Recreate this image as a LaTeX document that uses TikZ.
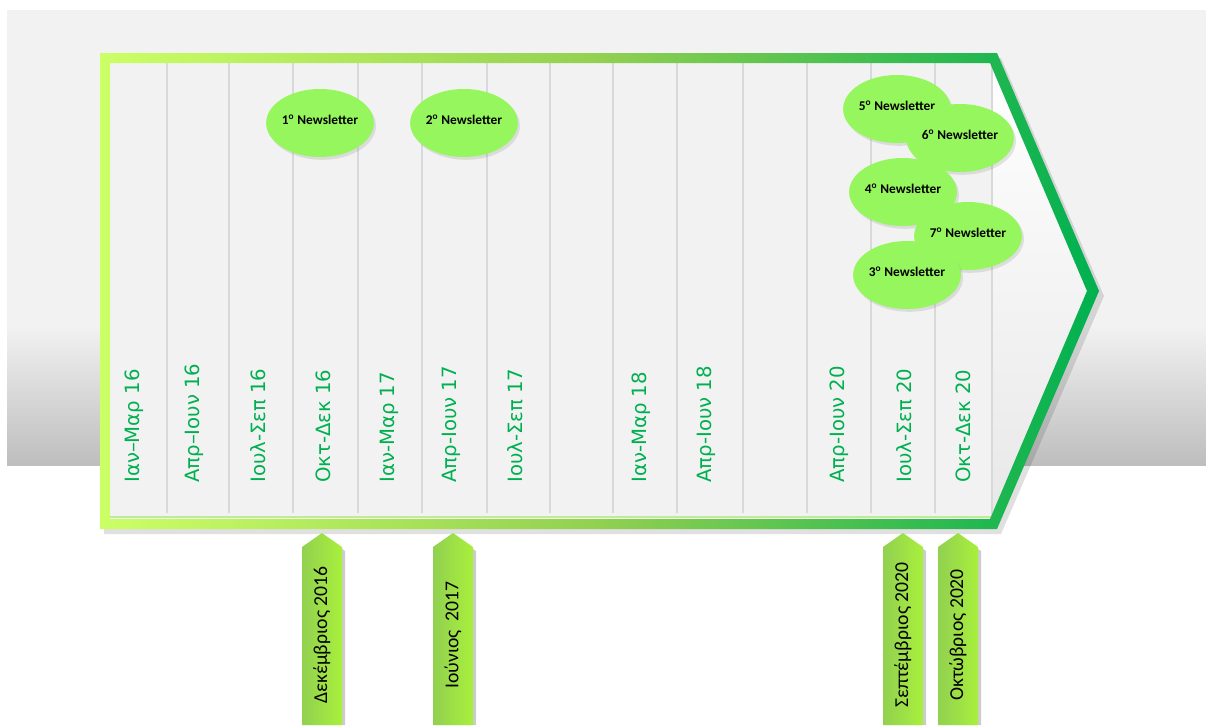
\documentclass[tikz,border=0pt]{standalone}
\usepackage{fontspec}
\setmainfont{Carlito}
\newfontfamily\gothicfont{DejaVu Sans}
\usepackage{xcolor}
\usepackage{tikz}
\usetikzlibrary{shapes.geometric,shadows}

\definecolor{lime}{RGB}{204,255,102}
\definecolor{leaf}{RGB}{146,208,80}
\definecolor{office}{RGB}{0,176,80}
\definecolor{bubble}{RGB}{150,246,94}
\definecolor{paper}{RGB}{242,242,242}
\definecolor{tipgray}{RGB}{232,232,232}
\definecolor{shadegray}{RGB}{190,190,190}
\definecolor{rule}{RGB}{217,217,217}
\definecolor{paleleaf}{RGB}{190,235,150}
\definecolor{spring}{RGB}{168,240,60}

\begin{document}
\begin{tikzpicture}[x=0.025cm,y=-0.025cm]
\tikzstyle{every node}=[font=\small]
\tikzstyle{newsbubble}=[ellipse, fill=bubble, minimum width=2.55cm, minimum height=1.7cm, inner sep=0pt, text depth=4.3pt,
  font=\fontsize{9.5}{11}\selectfont\bfseries, drop shadow={opacity=0.2, shadow xshift=1.5pt, shadow yshift=-2pt}]
\tikzstyle{quarter}=[rotate=90, anchor=west, inner sep=0pt, text=office, font=\gothicfont\fontsize{14}{16}\selectfont]
\tikzstyle{month}=[rotate=90, inner sep=0pt, font=\fontsize{14}{16}\selectfont]

\useasboundingbox (0,0) rectangle (1206,725);

% Draw background
\fill[white] (0,0) rectangle (1206,725);
\fill[paper] (7,10) rectangle (1206,327);
\shade[top color=paper, bottom color=shadegray] (7,325) rectangle (1206,465);

% Draw arrow shadow and inside
\fill[black, opacity=0.12] (104,58) -- (1001,58) -- (1104,296) -- (1001,534) -- (104,534) -- cycle;
\fill[paper] (110,63) -- (990,63) -- (1087,291) -- (990,519) -- (110,519) -- cycle;
\shade[top color=white, bottom color=tipgray] (992,63) -- (990,63) -- (1087,291) -- (990,519) -- (992,519) -- cycle;

% Draw column lines
\foreach \x in {167,229,293,358,422,487,550,613,677,743,807,871,935} {
    \draw[rule, line width=1.4pt] (\x,63) -- (\x,513);
}
\draw[rule, line width=0.8pt] (992,63) -- (992,519);
\draw[paleleaf, line width=1pt] (110,517) -- (992,517);

% Draw arrow border
\shade[even odd rule, left color=lime, right color=office, middle color=leaf]
    (100,53) -- (997,53) -- (1099,291) -- (997,529) -- (100,529) -- cycle
    (110,63) -- (990,63) -- (1087,291) -- (990,519) -- (110,519) -- cycle;

% Add quarter labels
\foreach \x/\txt in {134/Ιαν–Μαρ 16, 194/Απρ–Ιουν 16, 258/Ιουλ-Σεπ 16, 323/Οκτ-Δεκ 16,
    389/Ιαν-Μαρ 17, 451/Απρ-Ιουν 17, 515/Ιουλ-Σεπ 17, 641/Ιαν-Μαρ 18, 706/Απρ-Ιουν 18,
    839/Απρ-Ιουν 20, 904/Ιουλ-Σεπ 20, 963/Οκτ-Δεκ 20} {
    \node[quarter] (quarter-\x) at (\x,483) {\txt};
}

% Add newsletters
\node[newsbubble] (nl-1) at (320,123) {1\textsuperscript{ο} Newsletter};
\node[newsbubble] (nl-2) at (464,123) {2\textsuperscript{ο} Newsletter};
\node[newsbubble] (nl-5) at (897,109) {5\textsuperscript{ο} Newsletter};
\node[newsbubble] (nl-6) at (960,138) {6\textsuperscript{ο} Newsletter};
\node[newsbubble] (nl-4) at (903,192) {4\textsuperscript{ο} Newsletter};
\node[newsbubble] (nl-7) at (968,236) {7\textsuperscript{ο} Newsletter};
\node[newsbubble] (nl-3) at (907,275) {3\textsuperscript{ο} Newsletter};

% Draw milestone arrows
\foreach \x/\txt in {322/Δεκέμβριος 2016, 453/Ιούνιος\ \ 2017, 903/Σεπτέμβριος 2020, 958/Οκτώβριος 2020} {
    \fill[black, opacity=0.2] (\x-17,725) -- (\x-17,551) -- (\x+3,537) -- (\x+23,551) -- (\x+23,725) -- cycle;
    \shade[left color=leaf, right color=spring] (\x-20,725) -- (\x-20,547) -- (\x,533) -- (\x+20,547) -- (\x+20,725) -- cycle;
    \node[month] (month-\x) at (\x,635) {\txt};
}

\end{tikzpicture}
\end{document}
